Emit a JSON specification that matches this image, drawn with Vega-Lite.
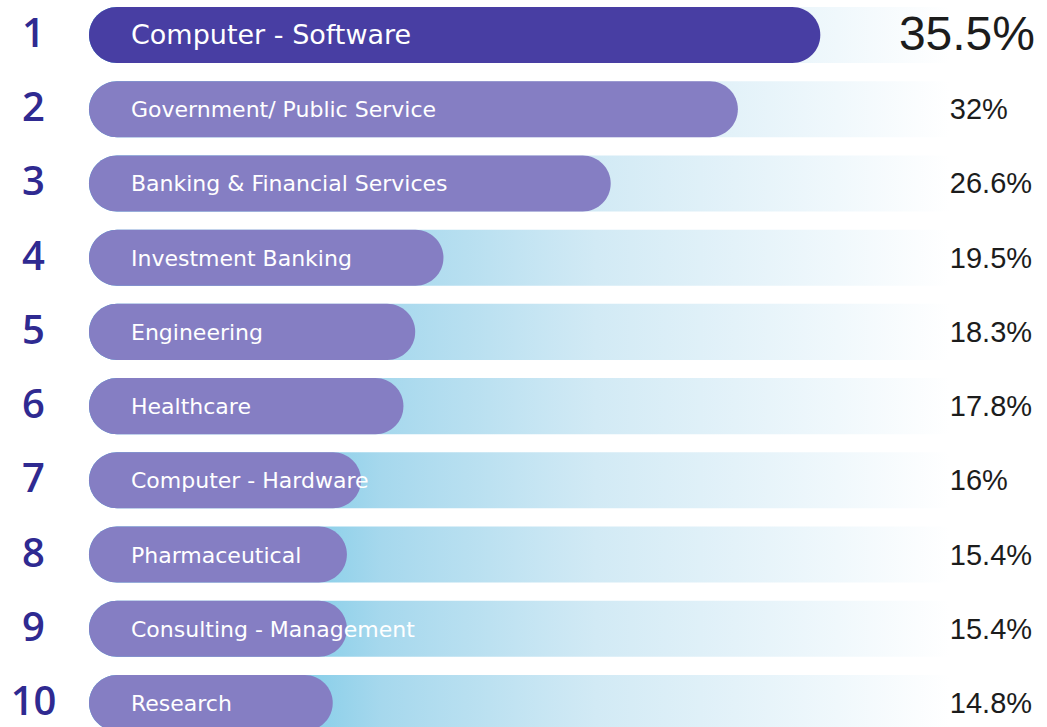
{
  "$schema": "https://vega.github.io/schema/vega-lite/v6.json",
  "width": 944,
  "height": 727,
  "autosize": {"type": "none"},
  "padding": {"left": 89, "top": 0, "right": 14, "bottom": 0},
  "background": "white",
  "config": {"view": {"stroke": null}},
  "data": {
    "values": [
      {"rank": 1, "industry": "Computer - Software", "share": 35.5, "pct": "35.5%"},
      {"rank": 2, "industry": "Government/ Public Service", "share": 32, "pct": "32%"},
      {"rank": 3, "industry": "Banking & Financial Services", "share": 26.6, "pct": "26.6%"},
      {"rank": 4, "industry": "Investment Banking", "share": 19.5, "pct": "19.5%"},
      {"rank": 5, "industry": "Engineering", "share": 18.3, "pct": "18.3%"},
      {"rank": 6, "industry": "Healthcare", "share": 17.8, "pct": "17.8%"},
      {"rank": 7, "industry": "Computer - Hardware", "share": 16, "pct": "16%"},
      {"rank": 8, "industry": "Pharmaceutical", "share": 15.4, "pct": "15.4%"},
      {"rank": 9, "industry": "Consulting - Management", "share": 15.4, "pct": "15.4%"},
      {"rank": 10, "industry": "Research", "share": 14.8, "pct": "14.8%"}
    ]
  },
  "encoding": {
    "y": {
      "field": "rank",
      "type": "ordinal",
      "sort": "ascending",
      "scale": {"range": [7, 731], "paddingInner": 0.245, "paddingOuter": 0},
      "axis": {
        "title": null,
        "domain": false,
        "ticks": false,
        "tickSize": 0,
        "grid": false,
        "labelPadding": 56,
        "labelAlign": "center",
        "labelBaseline": "middle",
        "labelFont": "Open Sans",
        "labelFontSize": 40,
        "labelFontWeight": 600,
        "labelColor": "#2f2a91"
      }
    }
  },
  "layer": [
    {
      "mark": {
        "type": "bar",
        "fill": {
          "gradient": "linear",
          "x1": 0, "y1": 0, "x2": 1, "y2": 0,
          "stops": [
            {"offset": 0, "color": "#45b3df"},
            {"offset": 0.19, "color": "#72c7e6"},
            {"offset": 0.34, "color": "#a6d8ed"},
            {"offset": 0.59, "color": "#d2eaf5"},
            {"offset": 0.87, "color": "#f0f8fc"},
            {"offset": 1, "color": "#ffffff"}
          ]
        },
        "cornerRadiusTopLeft": 28,
        "cornerRadiusBottomLeft": 28
      },
      "encoding": {
        "x": {"datum": 4.45, "type": "quantitative", "scale": {"domain": [4.45, 44.53], "zero": false, "nice": false}, "axis": null},
        "x2": {"datum": 41}
      }
    },
    {
      "mark": {"type": "bar", "cornerRadius": 28},
      "encoding": {
        "x": {"field": "share", "type": "quantitative"},
        "x2": {"datum": 4.45},
        "color": {"condition": {"test": "datum.rank == 1", "value": "#483ea3"}, "value": "#857ec3"}
      }
    },
    {
      "mark": {"type": "text", "align": "left", "baseline": "middle", "dx": 42, "dy": 1, "font": "DejaVu Sans", "color": "white"},
      "encoding": {
        "x": {"datum": 4.45, "type": "quantitative"},
        "text": {"field": "industry"},
        "size": {"condition": {"test": "datum.rank == 1", "value": 27}, "value": 22}
      }
    },
    {
      "transform": [{"filter": "datum.rank != 1"}],
      "mark": {"type": "text", "align": "left", "baseline": "middle", "dy": 1, "font": "Liberation Sans", "fontSize": 29, "color": "#1c1c1c"},
      "encoding": {
        "x": {"datum": 41, "type": "quantitative"},
        "text": {"field": "pct"}
      }
    },
    {
      "transform": [{"filter": "datum.rank == 1"}],
      "mark": {"type": "text", "align": "right", "baseline": "middle", "dx": 2, "dy": 1, "font": "Liberation Sans", "fontSize": 48, "color": "#1c1c1c"},
      "encoding": {
        "x": {"datum": 44.53, "type": "quantitative"},
        "text": {"field": "pct"}
      }
    }
  ]
}
